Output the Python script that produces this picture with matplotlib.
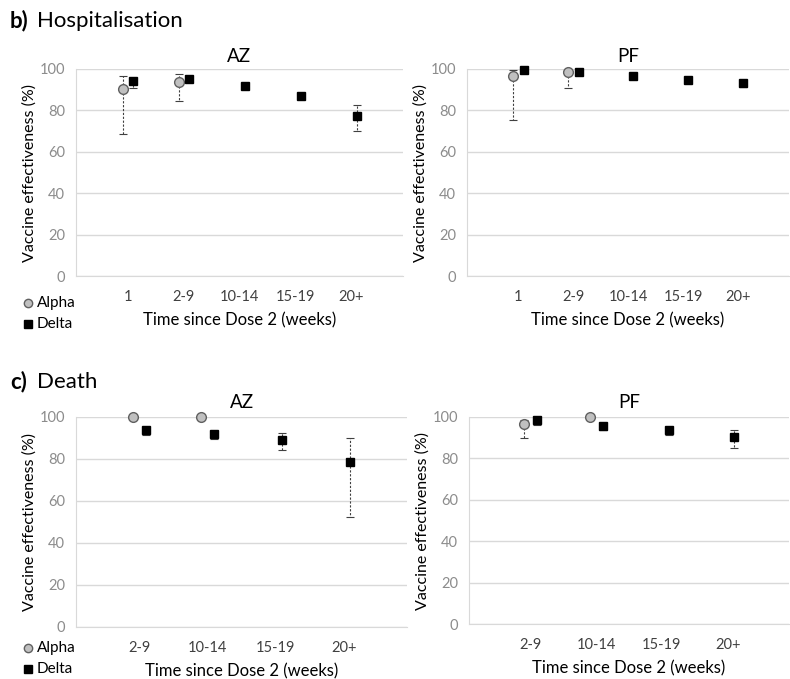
import numpy as np
import matplotlib.pyplot as plt

plt.rcParams['font.family'] = ['Lato', 'DejaVu Sans']

# data (NaN = no bar drawn)
hosp_cats = ['1', '2-9', '10-14', '15-19', '20+']
death_cats = ['2-9', '10-14', '15-19', '20+']

hosp_az_alpha = [90.3, 93.7, np.nan, np.nan, np.nan]
hosp_az_alpha_lo = [68.7, 84.7, np.nan, np.nan, np.nan]
hosp_az_alpha_hi = [96.5, 97.7, np.nan, np.nan, np.nan]
hosp_az_delta = [94.4, 95.2, 91.6, 87.1, 77.1]
hosp_az_delta_lo = [90.8, np.nan, np.nan, np.nan, 70.2]
hosp_az_delta_hi = [np.nan, np.nan, np.nan, np.nan, 82.4]

hosp_pf_alpha = [96.8, 98.4, np.nan, np.nan, np.nan]
hosp_pf_alpha_lo = [75.5, 90.8, np.nan, np.nan, np.nan]
hosp_pf_alpha_hi = [99.7, np.nan, np.nan, np.nan, np.nan]
hosp_pf_delta = [99.7, 98.7, 96.8, 94.8, 93.2]
hosp_pf_delta_lo = [np.nan, np.nan, np.nan, np.nan, 91.2]
hosp_pf_delta_hi = [np.nan, np.nan, np.nan, np.nan, np.nan]

death_az_alpha = [100, 100, np.nan, np.nan]
death_az_alpha_lo = [np.nan, np.nan, np.nan, np.nan]
death_az_alpha_hi = [np.nan, np.nan, np.nan, np.nan]
death_az_delta = [94.0, 92.0, 89.2, 78.4]
death_az_delta_lo = [91.3, 89.5, 84.1, 52.4]
death_az_delta_hi = [np.nan, np.nan, 92.5, 90.0]

death_pf_alpha = [96.5, 100, np.nan, np.nan]
death_pf_alpha_lo = [90.0, np.nan, np.nan, np.nan]
death_pf_alpha_hi = [98.7, np.nan, np.nan, np.nan]
death_pf_delta = [98.7, 95.7, 93.9, 90.4]
death_pf_delta_lo = [96.0, 93.6, 91.5, 85.2]
death_pf_delta_hi = [np.nan, np.nan, np.nan, 93.6]

W, H = 790, 679
fig = plt.figure(figsize=(W / 100, H / 100), dpi=100)


def box(l, t, r, b):
    return [l / W, 1 - b / H, (r - l) / W, (b - t) / H]


def ci(ax, x, v, lo, hi):
    for xi, vi, a, b in zip(x, v, lo, hi):
        for end in (a, b):
            if np.isnan(vi) or np.isnan(end):
                continue
            ax.plot([xi, xi], [vi, end], color='#404040', lw=0.8,
                    ls=(0, (2, 1.5)), zorder=2, clip_on=False)
            ax.plot([xi], [end], marker='_', ms=6, mew=0.8,
                    color='#404040', zorder=2, clip_on=False)


def panel(rect, title, title_gap, cats, alpha, a_lo, a_hi, delta, d_lo, d_hi):
    ax = fig.add_axes(rect)
    x = np.arange(len(cats))
    ci(ax, x - 0.09, alpha, a_lo, a_hi)
    ci(ax, x + 0.1, delta, d_lo, d_hi)
    ax.plot(x - 0.09, alpha, 'o', ms=7, mfc='#c0c0c0', mec='#606060',
            mew=1, ls='none', zorder=3, clip_on=False)
    ax.plot(x + 0.1, delta, 's', ms=6, color='black', ls='none', zorder=3,
            clip_on=False)
    ax.set_xlim(-0.93, len(cats) - 1 + 0.93)
    ax.set_ylim(0, 100)
    ax.set_yticks(range(0, 101, 20))
    ax.set_xticks(x)
    ax.set_xticklabels(cats)
    ax.grid(axis='y', color='#d9d9d9', lw=1)
    ax.set_axisbelow(True)
    for s in ('top', 'right'):
        ax.spines[s].set_visible(False)
    ax.spines['left'].set_color('#d9d9d9')
    ax.spines['bottom'].set_color('#d9d9d9')
    ax.tick_params(length=0)
    ax.tick_params(axis='y', colors='#8c8c8c', labelsize=10.5, pad=8)
    ax.tick_params(axis='x', colors='#404040', labelsize=10.5, pad=10)
    h = rect[3] * H
    ax.text(0.5, 1 + title_gap / h, title, transform=ax.transAxes,
            ha='center', va='center', fontsize=13.5)
    ax.set_ylabel('Vaccine effectiveness (%)', fontsize=11.5, labelpad=2)
    ax.set_xlabel('Time since Dose 2 (weeks)', fontsize=12, labelpad=6)
    return ax


panel(box(76, 69, 403, 276), 'AZ', 13, hosp_cats, hosp_az_alpha, hosp_az_alpha_lo,
      hosp_az_alpha_hi, hosp_az_delta, hosp_az_delta_lo, hosp_az_delta_hi)
panel(box(467, 69, 789, 276), 'PF', 13, hosp_cats, hosp_pf_alpha, hosp_pf_alpha_lo,
      hosp_pf_alpha_hi, hosp_pf_delta, hosp_pf_delta_lo, hosp_pf_delta_hi)
panel(box(76, 417, 407, 627), 'AZ', 15, death_cats, death_az_alpha, death_az_alpha_lo,
      death_az_alpha_hi, death_az_delta, death_az_delta_lo, death_az_delta_hi)
panel(box(469, 417, 789, 624), 'PF', 15, death_cats, death_pf_alpha, death_pf_alpha_lo,
      death_pf_alpha_hi, death_pf_delta, death_pf_delta_lo, death_pf_delta_hi)

# section headings
fig.text(10 / W, 1 - 21 / H, 'b)', fontsize=16, fontweight='bold', va='center')
fig.text(37 / W, 1 - 21 / H, 'Hospitalisation', fontsize=16, va='center')
fig.text(10 / W, 1 - 382 / H, 'c)', fontsize=16, fontweight='bold', va='center')
fig.text(37 / W, 1 - 382 / H, 'Death', fontsize=16, va='center')

# legends below the left panels
for y0 in (303, 648):
    fig.lines.append(plt.Line2D([28 / W], [1 - y0 / H], marker='o', ms=6,
                                mfc='#c0c0c0', mec='#606060', ls='none',
                                transform=fig.transFigure))
    fig.text(37 / W, 1 - y0 / H, 'Alpha', fontsize=11, va='center')
    fig.lines.append(plt.Line2D([28 / W], [1 - (y0 + 21) / H], marker='s', ms=6,
                                color='black', ls='none',
                                transform=fig.transFigure))
    fig.text(37 / W, 1 - (y0 + 21) / H, 'Delta', fontsize=11, va='center')

fig.savefig('out.png', dpi=100)
